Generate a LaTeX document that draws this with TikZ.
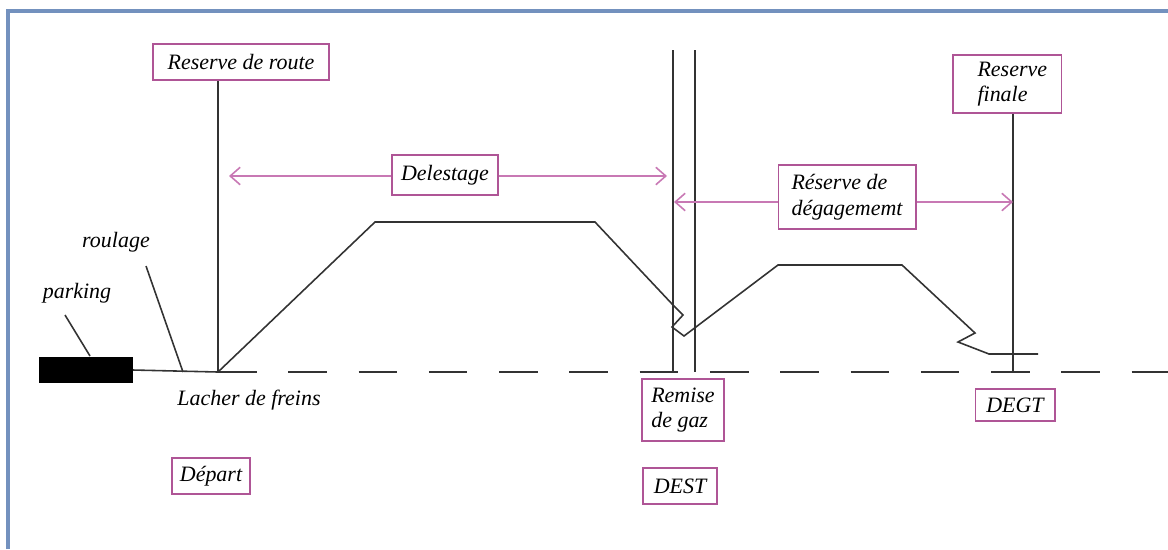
\documentclass[tikz,border=0pt]{standalone}
\usepackage{fontspec}
\setmainfont{Liberation Serif}
\usepackage{tikz}
\usetikzlibrary{arrows.meta}
\definecolor{frameblue}{RGB}{115,145,190}
\definecolor{boxpink}{RGB}{175,85,150}
\definecolor{arrowpink}{RGB}{200,120,180}
\tikzstyle{textlabel}=[font=\fontsize{12.5}{14.5}\selectfont\itshape, inner sep=1pt]
\tikzstyle{pinkbox}=[rectangle, draw=boxpink, line width=1.1pt, fill=white, inner sep=2pt, font=\fontsize{12.5}{14.5}\selectfont\itshape]
\tikzstyle{dimarrow}=[draw=arrowpink, line width=0.9pt, -{Straight Barb[length=2mm, width=3.5mm]}]
\tikzstyle{trait}=[draw=black!80, line width=0.9pt]

\begin{document}
\begin{tikzpicture}[x=0.02cm, y=-0.02cm]
		   \useasboundingbox (0,0) rectangle (1168,549);
		   \draw [frameblue, line width=2.8pt] (8,549) -- (8,11) -- (1168,11);
		   \begin{scope}
			   \node (park) at (86, 370) [rectangle, fill=black, minimum width=53pt, minimum height=15pt, inner sep=0pt] {};
			   \node (parklbl) at (77, 293) [textlabel] {parking};
			   \node (roullbl) at (116, 242) [textlabel] {roulage};
			   \node (lacher) at (249, 400) [textlabel] {Lacher de freins};

			   \node (rroute) at (241, 62) [pinkbox, minimum width=100pt, minimum height=21pt] {Reserve de route};
			   \node (delest) at (445, 175) [pinkbox, minimum width=60pt, minimum height=23pt] {Delestage};
			   \node (rdegag) at (847, 197) [pinkbox, minimum width=78pt, minimum height=36pt, align=left] {Réserve de\\dégagememt};
			   \node (rfinal) at (1007, 84) [pinkbox, minimum width=62pt, minimum height=33pt, align=left] {\hspace*{6pt}Reserve\\\hspace*{6pt}finale};
			   \node (depart) at (211, 476) [pinkbox, minimum width=44pt, minimum height=20pt] {Départ};
			   \node (remise) at (683, 410) [pinkbox, minimum width=47pt, minimum height=35pt, align=left] {Remise\\de gaz};
			   \node (dest) at (680, 486) [pinkbox, minimum width=42pt, minimum height=20pt] {DEST};
			   \node (degt) at (1015, 405) [pinkbox, minimum width=45pt, minimum height=18pt] {DEGT};

			   \coordinate (lf) at (218, 372);
			   \coordinate (end) at (1168, 372);
			   \coordinate (g1top) at (673, 50);
			   \coordinate (g1bot) at (673, 372);
			   \coordinate (g2top) at (695, 50);
			   \coordinate (g2bot) at (695, 372);
			   \coordinate (dg) at (1013, 372);
			   \coordinate (parkfoot) at (65, 315);
			   \coordinate (parktip) at (90, 356);
			   \coordinate (roulfoot) at (146, 266);
			   \coordinate (roultip) at (183, 372);
			   \coordinate (dlL) at (229, 176);
			   \coordinate (dlR) at (667, 176);
			   \coordinate (rdL) at (674, 202);
			   \coordinate (rdR) at (1013, 202);
		   \end{scope}
		   \begin{scope}
			   \draw [trait] (park.east) -- (lf);
			   \draw [trait, dash pattern=on 22 off 18] (lf) -- (end);
			   \draw [trait] (parkfoot) -- (parktip);
			   \draw [trait] (roulfoot) -- (roultip);

			   \draw [trait] (lf |- rroute.south) -- (lf);
			   \draw [trait] (g1top) -- (g1bot);
			   \draw [trait] (g2top) -- (g2bot);
			   \draw [trait] (dg |- rfinal.south) -- (dg);

			   \draw [dimarrow] (delest.west |- dlL) -- (dlL);
			   \draw [dimarrow] (delest.east |- dlR) -- (dlR);
			   \draw [dimarrow] (rdegag.west |- rdL) -- (rdL);
			   \draw [dimarrow] (rdegag.east |- rdR) -- (rdR);

			   \draw [trait] (lf) -- (375, 222) -- (595, 222) -- (673, 305) -- (683, 315)
				   -- (672, 327) -- (684, 336) -- (778, 265) -- (902, 265) -- (975, 333)
				   -- (958, 342) -- (989, 354) -- (1038, 354);
		   \end{scope}
	   \end{tikzpicture}
\end{document}
